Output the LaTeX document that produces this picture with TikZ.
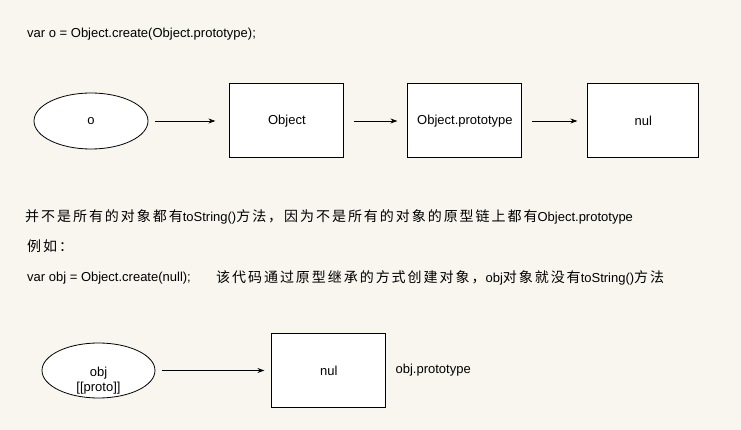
\documentclass[tikz,border=0pt]{standalone}
\usepackage{fontspec}
\setmainfont{Liberation Sans}
\newfontfamily\cjk[LetterSpace=14]{Noto Sans CJK SC}
\newcommand\zh[1]{{\fontsize{14}{16}\cjk #1}}
\usetikzlibrary{arrows.meta}
\usetikzlibrary{positioning}
\usetikzlibrary{shapes.geometric}
\definecolor{paper}{RGB}{249,246,240}
\tikzset {
  % object box
  obj box/.style = {
    draw = black,
    fill = white,
    line width = 1pt,
    rectangle,
    minimum width = 114pt,
    minimum height = 74pt,
    font = \fontsize{13}{15}\selectfont
  },
  % variable oval
  var oval/.style = {
    draw = black,
    fill = white,
    line width = 0.8pt,
    ellipse,
    minimum width = 114pt,
    minimum height = 56pt,
    inner sep = 0,
    font = \fontsize{13}{15}\selectfont
  },
  % plain text line
  note/.style = {
    inner sep = 0,
    anchor = west,
    font = \fontsize{13}{15}\selectfont
  },
  % pointer arrow, kept clear of its nodes
  arr/.style = {
    draw = black,
    line width = 0.8pt,
    -{Stealth[length=7pt,width=5pt]},
    shorten < = 10pt,
    shorten > = 10pt
  }
}

\begin{document}
\begin{tikzpicture}[x=1pt, y=-1pt]
    \fill[paper] (0,0) rectangle (741,430);
    \useasboundingbox (0,0) rectangle (741,430);

    \node[note] (code-o) at (27,34) {var o = Object.create(Object.prototype);};

    \node[var oval] (o) at (91,121) {o};
    \node[obj box] (object) [right=81pt of o] {Object};
    \node[obj box] (proto) [right=63pt of object] {Object.prototype};
    \node[obj box, minimum width=111pt] (null) [right=65pt of proto] {nul};

    \draw[arr, shorten < = 7pt, shorten > = 14pt] (o) -- (object);
    \draw[arr] (object) -- (proto);
    \draw[arr] (proto) -- (null);

    \node[note] (remark) at (25,217) {\zh{并不是所有的对象都有}toString()\zh{方法，因为不是所有的对象的原型链上都有}Object.prototype};
    \node[note] (example) at (27,246) {\zh{例如：}};
    \node[note] (code-obj) at (27,278) {var obj = Object.create(null);};
    \node[note] (explain) at (216,278) {\zh{该代码通过原型继承的方式创建对象，}obj\zh{对象就没有}toString()\zh{方法}};

    \node[var oval, minimum width=113pt, minimum height=55pt, label={[align=center, yshift=-10pt, font=\fontsize{13}{15}\selectfont]center:obj\\{[[proto]]}}] (obj) at (98.5,370.5) {};
    \node[obj box] (obj-null) [right=116pt of obj] {nul};
    \node[note] (obj-proto) [right=9pt of obj-null] {obj.prototype};

    \draw[arr, shorten < = 7pt, shorten > = 7pt] (obj) -- (obj-null);
\end{tikzpicture}
\end{document}
